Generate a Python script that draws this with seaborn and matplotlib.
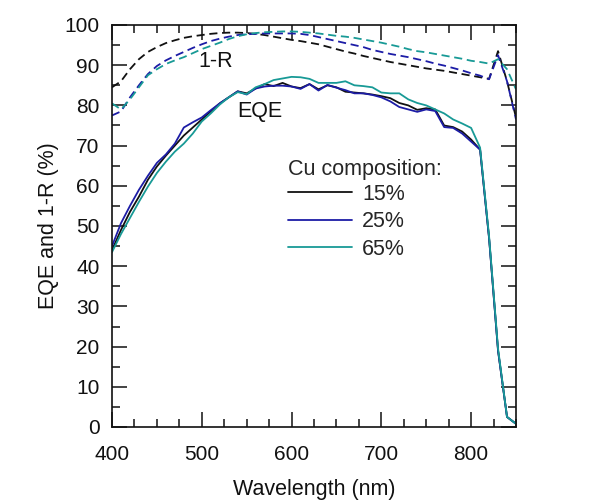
import numpy as np
import pandas as pd
import matplotlib
matplotlib.use("Agg")
import matplotlib.pyplot as plt
from matplotlib.lines import Line2D
from matplotlib.ticker import MultipleLocator
import seaborn as sns

# Wavelength grid (nm)
wavelength = list(range(400, 851, 10))

# External quantum efficiency (%) for each Cu composition
eqe_15 = [44.0, 49.0, 53.5, 57.3, 61.5, 64.8, 67.5, 70.0, 72.5, 74.5,
          76.5, 78.5, 80.5, 82.0, 83.5, 83.0, 84.2, 85.3, 84.8, 85.6,
          84.7, 84.3, 85.3, 84.0, 85.0, 84.5, 83.4, 83.2, 83.0, 82.7,
          82.3, 81.8, 80.6, 80.0, 78.9, 79.3, 79.0, 75.0, 74.6, 73.5,
          71.5, 69.0, 47.0, 19.0, 2.5, 0.8]
eqe_25 = [45.0, 50.7, 55.0, 59.0, 62.5, 65.7, 67.8, 70.5, 74.5, 75.8,
          77.0, 78.8, 80.5, 82.0, 83.5, 82.7, 84.2, 84.7, 84.9, 84.9,
          84.7, 84.1, 85.3, 83.7, 85.1, 84.4, 83.8, 83.0, 83.0, 82.6,
          82.0, 81.0, 79.6, 79.0, 78.4, 79.0, 78.6, 74.6, 74.4, 73.0,
          71.0, 69.0, 47.0, 19.0, 2.5, 0.8]
eqe_65 = [43.5, 48.0, 52.0, 56.0, 59.8, 63.2, 66.0, 68.5, 70.5, 73.0,
          76.0, 78.0, 80.2, 82.0, 83.3, 82.8, 84.5, 85.3, 86.3, 86.7,
          87.1, 87.0, 86.6, 85.6, 85.6, 85.6, 86.0, 85.0, 84.8, 84.5,
          83.2, 83.0, 83.0, 81.5, 80.6, 80.0, 79.0, 78.0, 76.5, 75.5,
          74.4, 69.5, 47.5, 19.5, 2.5, 0.8]

# 1 - reflectance (%) for each Cu composition
absr_15 = [84.5, 86.0, 89.0, 91.5, 93.3, 94.5, 95.5, 96.2, 96.8, 97.2,
           97.5, 97.8, 98.0, 98.1, 98.1, 98.0, 97.8, 97.5, 97.1, 96.7,
           96.3, 96.0, 95.6, 95.2, 94.6, 94.0, 93.4, 92.9, 92.3, 91.8,
           91.3, 90.8, 90.4, 90.0, 89.6, 89.2, 88.9, 88.6, 88.2, 87.8,
           87.4, 87.0, 86.6, 93.5, 86.0, 77.0]
absr_25 = [77.5, 78.5, 82.0, 85.0, 87.8, 89.8, 91.2, 92.3, 93.3, 94.3,
           95.2, 96.0, 96.6, 97.1, 97.5, 97.7, 97.8, 97.9, 97.9, 97.9,
           97.9, 97.8, 97.5, 97.0, 96.5, 96.0, 95.5, 95.0, 94.5, 93.8,
           93.3, 92.8, 92.4, 92.0, 91.5, 91.0, 90.4, 89.9, 89.3, 88.7,
           88.0, 87.4, 86.5, 92.5, 86.0, 76.5]
absr_65 = [80.5, 79.0, 81.5, 84.5, 87.5, 89.0, 90.3, 91.2, 92.0, 93.0,
           94.0, 94.8, 95.6, 96.5, 97.2, 97.7, 98.0, 98.2, 98.3, 98.4,
           98.4, 98.3, 98.1, 97.9, 97.6, 97.3, 97.1, 96.8, 96.4, 96.0,
           95.6, 95.1, 94.6, 94.0, 93.5, 93.2, 92.8, 92.4, 92.0, 91.6,
           91.1, 90.8, 90.4, 91.5, 89.0, 84.0]

compositions = ["15%", "25%", "65%"]
colors = ["#111111", "#1c1ca6", "#189a96"]

frames = []
for comp, eqe, absr in zip(compositions, [eqe_15, eqe_25, eqe_65],
                           [absr_15, absr_25, absr_65]):
    frames.append(pd.DataFrame({"wavelength": wavelength, "value": eqe,
                                "composition": comp, "quantity": "EQE"}))
    frames.append(pd.DataFrame({"wavelength": wavelength, "value": absr,
                                "composition": comp, "quantity": "1-R"}))
df = pd.concat(frames, ignore_index=True)

sns.set_style("ticks")
plt.rcParams["font.family"] = ["Liberation Sans", "DejaVu Sans"]

fig = plt.figure(figsize=(6.11, 5.01), dpi=100)
ax = fig.add_axes([112 / 611, 1 - 427 / 501, 404 / 611, 402 / 501])

palette = dict(zip(compositions, colors))
sns.lineplot(data=df, x="wavelength", y="value", hue="composition",
             style="quantity", palette=palette,
             dashes={"EQE": "", "1-R": (4.5, 2.6)},
             linewidth=1.3, legend=False, ax=ax, estimator=None,
             sort=False)

ax.set_xlim(400, 850)
ax.set_ylim(0, 100)
ax.xaxis.set_major_locator(MultipleLocator(100))
ax.xaxis.set_minor_locator(MultipleLocator(25))
ax.yaxis.set_major_locator(MultipleLocator(10))
ax.yaxis.set_minor_locator(MultipleLocator(5))
ax.tick_params(which="both", direction="in", top=True, right=True,
               width=1.1, color="#111111", labelsize=15, labelcolor="#111111")
ax.tick_params(which="major", length=11)
ax.tick_params(which="minor", length=6)
ax.tick_params(axis="x", which="both", pad=13)
ax.tick_params(axis="y", which="both", pad=9)
for sp in ax.spines.values():
    sp.set_linewidth(1.2)
    sp.set_color("#111111")

ax.set_xlabel("Wavelength (nm)", fontsize=15.5, color="#111111", labelpad=11)
ax.set_ylabel("EQE and 1-R (%)", fontsize=15.5, color="#111111", labelpad=4)

ax.text(516, 91, "1-R", fontsize=15.5, ha="center", va="center", color="#111111")
ax.text(565, 78.6, "EQE", fontsize=15.5, ha="center", va="center", color="#111111")

handles = [Line2D([], [], color=c, lw=1.3) for c in colors]
leg = ax.legend(handles, compositions, title="Cu composition:",
                loc="upper left", bbox_to_anchor=(0.435, 0.667),
                frameon=False, fontsize=15.5, title_fontsize=15.5,
                handlelength=3.0, handletextpad=0.45, labelspacing=0.3,
                borderpad=0, borderaxespad=0)
leg._legend_box.align = "left"
leg._legend_box.sep = 3

fig.savefig("out.png", dpi=100, facecolor="white")
